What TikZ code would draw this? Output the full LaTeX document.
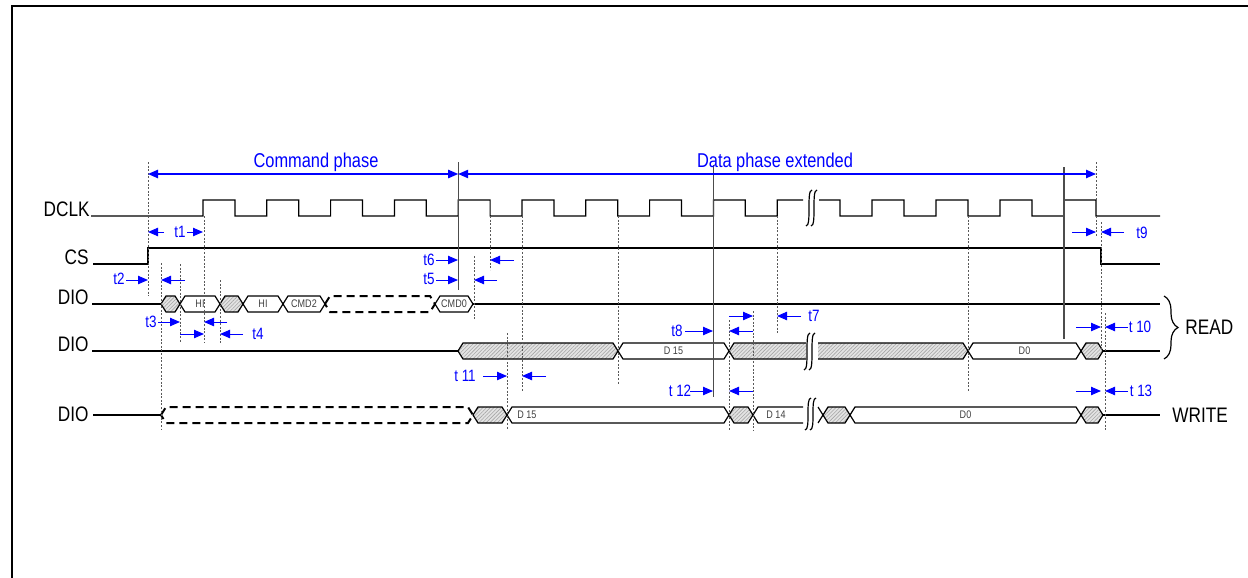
\documentclass[tikz,border=0pt]{standalone}
\usepackage{fontspec}
\setmainfont{Liberation Sans}[FakeStretch=0.82]
\usetikzlibrary{arrows.meta,patterns.meta,decorations.pathreplacing}

% one bus cell: style, x1, x2, y, label, name
\newcommand{\busseg}[6][white bus]{%
  \draw[#1] (#2,#4) -- (#2+5,#4-8) -- (#3-5,#4-8) -- (#3,#4) -- (#3-5,#4+8) -- (#2+5,#4+8) -- cycle;
  \node[buslabel] (#6) at ({(#2+#3)/2},#4) {#5};}
% break mark: x, y top, y bottom
\newcommand{\brkmark}[3]{%
  \draw[sig] (#1-3,#3) .. controls (#1+3,#3) and (#1-3,#2) .. (#1+3,#2);
  \draw[sig] (#1+2,#3) .. controls (#1+8,#3) and (#1+2,#2) .. (#1+8,#2);}

\begin{document}
\begin{tikzpicture}[
    x=0.5pt, y=-0.5pt,
    sig/.style={draw=black, line width=0.6pt},
    white bus/.style={draw=black, line width=0.6pt, fill=white},
    hatch fill/.style={preaction={fill=gray!22}, pattern={Lines[angle=45,distance=1.3pt,line width=0.3pt]}, pattern color=gray!70},
    hatch bus/.style={hatch fill, draw=black, line width=0.6pt},
    dash bus/.style={draw=black, line width=1pt, dash pattern=on 4pt off 2.5pt},
    guide/.style={draw=black!65, line width=0.5pt, dash pattern=on 1pt off 0.8pt},
    edgeline/.style={draw=black!70, line width=0.6pt},
    tarrow/.style={draw=blue, line width=0.5pt, -{Triangle[length=5pt,width=4.2pt]}},
    span/.style={draw=blue, line width=0.6pt, {Triangle[length=5pt,width=4.2pt]}-{Triangle[length=5pt,width=4.2pt]}},
    siglabel/.style={font=\fontsize{10.5}{12}\selectfont, inner sep=0pt},
    tlabel/.style={text=blue, font=\fontsize{8.2}{10}\selectfont, inner sep=0pt},
    phaselabel/.style={text=blue, font=\fontsize{10}{12}\selectfont, inner sep=0pt, anchor=base},
    buslabel/.style={text=black!75, font=\fontsize{5.5}{6}\selectfont, inner sep=0pt}
]
\useasboundingbox (0,0) rectangle (1248,578);

% frame
\draw[line width=1pt] (12,578) -- (12,6) -- (1248,6);

% signal names
\node[siglabel, anchor=base east] (dclk) at (90,216) {DCLK};
\node[siglabel, anchor=base east] (cs) at (89,264) {CS};
\node[siglabel, anchor=base east] (dioa) at (89,304) {DIO};
\node[siglabel, anchor=base east] (diob) at (89,351) {DIO};
\node[siglabel, anchor=east] (dioc) at (89,414) {DIO};
\node[siglabel, anchor=west] (read) at (1185,327) {READ};
\node[siglabel, anchor=west] (write) at (1172,415) {WRITE};
\draw[sig, decorate, decoration={brace, amplitude=7pt}] (1164,296) -- (1164,359);

% DCLK
\draw[sig] (91,216) -- (203,216)
  \foreach \i in {0,...,8} { -- ({203+63.8*\i},200) -- ({234.9+63.8*\i},200) -- ({234.9+63.8*\i},216) -- ({266.8+63.8*\i},216) }
  -- (777.2,200) -- (803,200)
  (819,200) -- (840,200) -- (840,216) -- (872,216)
  \foreach \x in {872,936,1000,1064} { -- (\x,200) -- ({\x+32},200) -- ({\x+32},216) -- ({\x+64},216) }
  -- (1160,216);
\brkmark{809}{190}{226}

% CS
\draw[sig] (93,264) -- (148,264) -- (148,248) -- (1101,248) -- (1101,264) -- (1160,264);

% DIO, command
\draw[sig] (92,304) -- (161,304);
\busseg[hatch bus]{161}{180}{304}{}{ha}
\busseg{180}{220}{304}{HI}{hi1}
\busseg[hatch bus]{220}{243}{304}{}{hb}
\busseg{243}{283}{304}{HI}{hi2}
\busseg{283}{325}{304}{CMD2}{cmd2}
\busseg[dash bus]{325}{435}{304}{}{cmdx}
\busseg{435}{473}{304}{CMD0}{cmd0}
\draw[sig] (473,304) -- (1160,304);

% DIO, read data
\draw[sig] (92,351) -- (458,351);
\busseg[hatch bus]{458}{618}{351}{}{rh1}
\busseg{618}{729}{351}{D 15}{rd15}
\path[hatch fill] (729,351) -- (734,343) -- (806,343) -- (806,359) -- (734,359) -- cycle;
\draw[sig] (806,343) -- (734,343) -- (729,351) -- (734,359) -- (806,359);
\path[hatch fill] (818,343) -- (963,343) -- (968,351) -- (963,359) -- (818,359) -- cycle;
\draw[sig] (818,343) -- (963,343) -- (968,351) -- (963,359) -- (818,359);
\brkmark{807}{333}{370}
\busseg{968}{1081}{351}{D0}{rd0}
\busseg[hatch bus]{1081}{1103}{351}{}{rh3}
\draw[sig] (1103,351) -- (1160,351);

% DIO, write data
\draw[sig] (93,415) -- (161,415);
\busseg[dash bus]{161}{473}{415}{}{wx}
\busseg[hatch bus]{473}{507}{415}{}{wh1}
\busseg{507}{729}{415}{}{wd15}
\node[buslabel, anchor=west] (wd15t) at (517,415) {D 15};
\busseg[hatch bus]{729}{753}{415}{}{wh2}
\draw[sig] (803,407) -- (758,407) -- (753,415) -- (758,423) -- (803,423);
\node[buslabel] (wd14) at (776,415) {D 14};
\brkmark{808}{398}{430}
\draw[sig] (818,407) -- (823,415) -- (818,423);
\busseg[hatch bus]{823}{850}{415}{}{wh3}
\busseg{850}{1081}{415}{D0}{wd0}
\busseg[hatch bus]{1081}{1103}{415}{}{wh4}
\draw[sig] (1103,415) -- (1160,415);

% guide lines
\foreach \x/\ya/\yb in {148/162/296, 161/263/430, 180/264/343, 204/216/343, 220/280/343,
    474/256/320, 490/216/270, 507/333/430, 522/216/392, 618.7/216/385, 729/320/430,
    753/311/430, 777.2/216/334, 968/216/392, 1096/162/237, 1101/222/350, 1105/313/430}
  \draw[guide] (\x,\ya) -- (\x,\yb);
\foreach \x/\ya/\yb in {458.2/162/290, 713.4/165/397, 1064/167/339}
  \draw[edgeline] (\x,\ya) -- (\x,\yb);

% phases
\draw[span] (148,174) -- (458.2,174);
\draw[span] (458.2,174) -- (1096,174);
\node[phaselabel] (cmdphase) at (316,167) {Command phase};
\node[phaselabel] (dataphase) at (775,167) {Data phase extended};

% timing labels
\node[tlabel] (tone) at (180,232) {t1};
\draw[tarrow] (164,232) -- (148,232);
\draw[tarrow] (187,232) -- (203,232);
\node[tlabel] (ttwo) at (119,279) {t2};
\draw[tarrow] (126,280) -- (148,280);
\draw[tarrow] (185,280) -- (161,280);
\node[tlabel] (tthree) at (151,322) {t3};
\draw[tarrow] (158,322) -- (180,322);
\draw[tarrow] (227,322) -- (204,322);
\node[tlabel] (tfour) at (258,334) {t4};
\draw[tarrow] (180,334) -- (204,334);
\draw[tarrow] (243,334) -- (220,334);
\node[tlabel] (tfive) at (429,279) {t5};
\draw[tarrow] (436,280) -- (458,280);
\draw[tarrow] (497,280) -- (474,280);
\node[tlabel] (tsix) at (429,260) {t6};
\draw[tarrow] (436,260) -- (458,260);
\draw[tarrow] (514,260) -- (490,260);
\node[tlabel] (tseven) at (814,316) {t7};
\draw[tarrow] (729,316) -- (753,316);
\draw[tarrow] (801,316) -- (777,316);
\node[tlabel] (teight) at (677,331) {t8};
\draw[tarrow] (685,331) -- (713,331);
\draw[tarrow] (753,331) -- (729,331);
\node[tlabel] (tnine) at (1142,233) {t9};
\draw[tarrow] (1072,232) -- (1096,232);
\draw[tarrow] (1124,232) -- (1101,232);
\node[tlabel] (tten) at (1140,327) {t 10};
\draw[tarrow] (1076,327) -- (1101,327);
\draw[tarrow] (1128,327) -- (1105,327);
\node[tlabel] (televen) at (465,376) {t 11};
\draw[tarrow] (483,376) -- (507,376);
\draw[tarrow] (546,376) -- (522,376);
\node[tlabel] (ttwelve) at (680,391) {t 12};
\draw[tarrow] (690,391) -- (713,391);
\draw[tarrow] (753,391) -- (729,391);
\node[tlabel] (tthirteen) at (1141,391) {t 13};
\draw[tarrow] (1076,391) -- (1101,391);
\draw[tarrow] (1128,391) -- (1105,391);

\end{tikzpicture}
\end{document}
